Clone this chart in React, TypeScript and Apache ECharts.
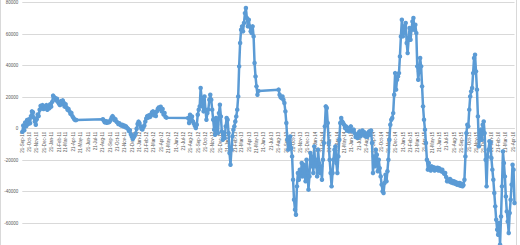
import React, { useEffect, useRef } from "react";
import * as echarts from "echarts";

// Axis range / ticks
const yTicks = [-80000, -60000, -40000, -20000, 0, 20000, 40000, 60000, 80000];
const firstDay = "2010-09-21";
const lastDay = "2016-04-27";
const stepDays = 4;
const monthNames = ["Jan", "Feb", "Mar", "Apr", "May", "Jun", "Jul", "Aug", "Sep", "Oct", "Nov", "Dec"];

// Segments of observations (values sampled every stepDays days from each start date)
const seg1Start = "2010-09-21";
const seg1Values = [
  -2000, 2000, -1000, 4000, 1500, 5500, 3000, 6000, 3500, 8000, 11000, 10500, 7000, 4500, 2500, 6000,
  9000, 8000, 12000, 14500, 13000, 15000, 12500, 14000, 13000, 15000, 12000, 14500, 13000, 15500, 14000,
  17000, 21000, 20000, 19500, 18000, 19000, 17000, 16000, 15000, 17500, 15500, 18000, 16500, 14000, 15500,
  13500, 12000, 12500, 11000, 9500, 10000, 8000, 7000, 6000, 5500, 5500,
];

const seg2Start = "2011-08-22";
const seg2Values = [
  6000, 5000, 4000, 4800, 3800, 4500, 4000, 4500, 5500, 7000, 8000, 7000, 5500, 6000, 4500, 4000, 3000,
  3500, 2500, 2000, 2500, 1500, 2000, 1000, 1500, 500, 0, -1500, -1000, -3500, -5000, -6500, -5500, -4500,
  -3000, 0, 3000, 4500, 3500, 1500, 0, -500, 1000, 2000, 4500, 6500, 8000, 7000, 8500, 7500, 9000, 10500,
  11000, 8500, 9500, 8000, 11000, 12500, 13500, 12500, 14000, 11000, 12500, 9000, 10000, 7500, 7000,
];

const seg3Start = "2012-08-10";
const seg3Values = [
  6800, 3600, 8900, 5700, 7800, 4600, 3200, 1900, 400, 2500, 8900, 12100, 14200, 25800, 19500, 14200,
  11000, 20500, 12100, 5700, 9900, 12100, 18400, 21600, 18400, 12100, 5700, -600, -3800, 6800, 2500, -2800,
  9900, 15200, 7800, -1700, -7000, -2800, -5900, 1500, 6800, 5700, -2800, -15400, -22900, -13300, -4900,
  -600, 1500, 4600, 7800, 12100, 20500, 39600, 54400, 62800, 65000, 61800, 67100, 73400, 76600, 70300,
  65000, 69200, 65000, 61800, 60700, 65000, 58600, 41700, 33200, 26900, 21600, 24000,
];

const seg4Start = "2013-08-21";
const seg4Values = [
  24800, 21600, 20100, 19500, 20500, 18400, 16300, 11000, 3600, -7000, -13300, -9100, -4900, -12300,
  -17600, -32400, -45100, -51400, -54600, -36600, -28100, -32400, -26000, -30300, -21800, -30300, -22900,
  -29200, -33400, -19700, -28100, -38700, -30300, -15400, -23900, -17600, -28100, -11200, -23900, -19700,
  -30300, -13300, -21800, -28100, -23900, -32400, -19700, -9100, 1500, 14200, 13100, 3600, -9100, -19700,
  -28100, -36600, -28100, -19700, -13300, -11200, -21800, -28100, -17600, -7000, 3600, 6800, 4600, 3600,
  2500, 400, 1500, -1100, 400, -1700, -200, 1500, -1100, -1700, -600, -2800,
  -5300, -3800, -5900, -2800, -1700, -4900, -2800, -1100, -3800, -2300, -4900, -3200, -5300, -2800, -1700,
  -3800, -1100, -9100, -28100, -17600, -23900, -13300, -16500, -27000, -19700, -25000, -30300, -35500,
  -39700, -40800, -34500, -29200, -33400, -27000, -19700, -7000, 2500, 5700, 6800, 9900, 21600, 35300,
  24800, 31100, 33200, 35300, 45900, 58600, 69200, 58600, 65000, 60700, 67100, 54400, 48000, 56500, 63900,
  56500, 62800, 68100, 70300, 62800, 66000, 60700, 39600, 31100, 36400, 44900, 39600, 26900, 14200, 5700,
  -600, -9100, -19700, -26000, -21800, -25000, -26500, -23900, -25600, -24500, -26500, -25000, -26000,
  -24800, -26500, -25200, -26000, -27100, -26000, -27700, -28600, -28100, -30700, -33400, -32400, -33400,
  -31900, -34100, -33000, -34500, -33400, -34900, -33900, -35500, -34500, -35800, -34500, -36200, -34900,
  -36600, -35800, -32400, -17600, -2800, 2500, 1500, 12100, 20500, 23700, 25800, 35300, 44900, 47000,
  36400, 24800, 7800, -11200, -7000, -600, -7000, 2500, 4600, -2800, -19700, -36600, -17600, -13300, -8000,
  -9100, -18600, -26000, -32400, -40800, -49300, -57800, -64100, -67300, -59900, -73600, -55700, -36600,
  -14400, -21800, -30300, -43000, -52500, -58900, -66200, -53500, -45100, -35500, -22900, -26000, -47200,
];

const DAY = 86400000;
const toMs = (s: string) => {
  const [y, m, d] = s.split("-").map(Number);
  return Date.UTC(y, m - 1, d);
};
const toIso = (ms: number) => new Date(ms).toISOString().slice(0, 10);

function buildCategories(): string[] {
  const out: string[] = [];
  const end = toMs(lastDay);
  for (let t = toMs(firstDay); t <= end; t += DAY) out.push(toIso(t));
  return out;
}

function buildSeries(categories: string[]): (number | null)[] {
  const map = new Map<string, number>();
  const segs: [string, number[]][] = [
    [seg1Start, seg1Values],
    [seg2Start, seg2Values],
    [seg3Start, seg3Values],
    [seg4Start, seg4Values],
  ];
  segs.forEach(([start, vals]) => {
    const t0 = toMs(start);
    vals.forEach((v, i) => map.set(toIso(t0 + i * stepDays * DAY), v));
  });
  return categories.map((c) => (map.has(c) ? (map.get(c) as number) : null));
}

const fmtDate = (s: string) => {
  const [y, m, d] = s.split("-");
  return `${d}-${monthNames[Number(m) - 1]}-${y.slice(2)}`;
};

const GRID_TOP = 2.7;
const GRID_H = 252;

export default function App() {
  const ref = useRef<HTMLDivElement>(null);
  useEffect(() => {
    document.body.style.margin = "0";
    if (!ref.current) return;
    const chart = echarts.init(ref.current, undefined, { renderer: "svg" });
    const categories = buildCategories();
    const data = buildSeries(categories);
    const font = "Liberation Sans, Arial, sans-serif";
    const yMin = yTicks[0];
    const yMax = yTicks[yTicks.length - 1];
    // place the category axis where the value axis crosses zero
    const zeroOffset = -GRID_H * (0 - yMin) / (yMax - yMin);
    chart.setOption({
      animation: false,
      backgroundColor: "#ffffff",
      grid: {
        left: 22.3,
        top: GRID_TOP,
        width: 492.2,
        height: GRID_H,
        containLabel: false,
        outerBoundsMode: "none",
      },
      graphic: [
        {
          type: "rect",
          shape: { x: 0.5, y: -5, width: 516, height: 260 },
          style: { fill: "none", stroke: "#D9D9D9", lineWidth: 1 },
          silent: true,
        },
      ],
      xAxis: {
        type: "category",
        data: categories,
        boundaryGap: false,
        position: "bottom",
        offset: zeroOffset,
        axisLine: { onZero: false, lineStyle: { color: "#D9D9D9", width: 1 } },
        axisTick: { show: false },
        splitLine: { show: false },
        axisLabel: {
          interval: (_i: number, v: string) => v.slice(8) === "21",
          hideOverlap: false,
          rotate: 90,
          margin: 3,
          fontSize: 4.5,
          lineHeight: 5,
          fontFamily: font,
          color: "#595959",
          formatter: (v: string) => fmtDate(v),
        },
      },
      yAxis: {
        type: "value",
        min: yMin,
        max: yMax,
        interval: 20000,
        axisLine: { show: false },
        axisTick: { show: false },
        splitLine: { lineStyle: { color: "#D9D9D9", width: 1 } },
        axisLabel: {
          margin: 4,
          fontSize: 4.5,
          fontFamily: font,
          color: "#595959",
          showMinLabel: false,
          formatter: (v: number) => String(v),
        },
      },
      series: [
        {
          type: "line",
          data,
          connectNulls: true,
          showSymbol: true,
          showAllSymbol: true,
          symbol: "circle",
          symbolSize: 4.5,
          itemStyle: { color: "#5B9BD5" },
          lineStyle: { color: "#5B9BD5", width: 2.5 },
        },
      ],
    });
    return () => chart.dispose();
  }, []);
  return <div ref={ref} style={{ width: 520, height: 245 }} />;
}
